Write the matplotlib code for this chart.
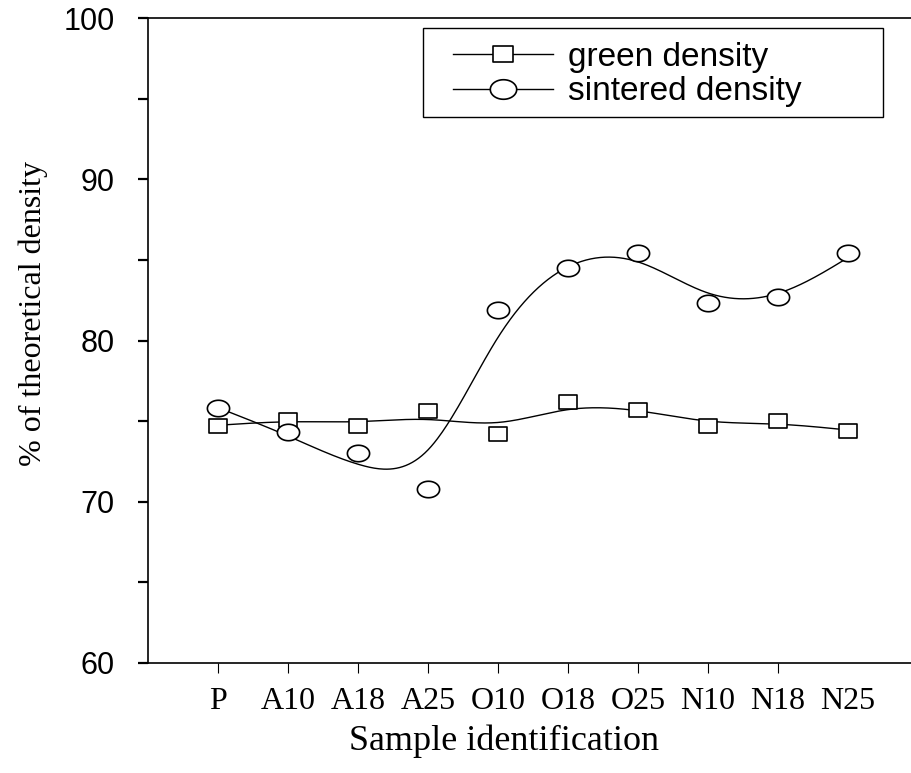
import numpy as np
import matplotlib
matplotlib.use("Agg")
import matplotlib.pyplot as plt
from matplotlib.path import Path
from matplotlib.patches import Rectangle
from matplotlib.ticker import MultipleLocator

# samples and measured densities (% of theoretical)
samples = ["P", "A10", "A18", "A25", "O10", "O18", "O25", "N10", "N18", "N25"]
green = [74.7, 75.1, 74.7, 75.6, 74.2, 76.2, 75.7, 74.7, 75.0, 74.4]
sintered = [75.8, 74.3, 73.0, 70.8, 81.9, 84.5, 85.4, 82.3, 82.7, 85.4]


def smooth_spline(x, y, lam, xs):
    """smoothing cubic spline (Reinsch), evaluated at xs"""
    x = np.asarray(x, float)
    y = np.asarray(y, float)
    n = len(x)
    h = np.diff(x)
    Q = np.zeros((n, n - 2))
    R = np.zeros((n - 2, n - 2))
    for j in range(1, n - 1):
        Q[j - 1, j - 1] = 1 / h[j - 1]
        Q[j, j - 1] = -1 / h[j - 1] - 1 / h[j]
        Q[j + 1, j - 1] = 1 / h[j]
        R[j - 1, j - 1] = (h[j - 1] + h[j]) / 3
        if j < n - 2:
            R[j - 1, j] = R[j, j - 1] = h[j] / 6
    gam = np.linalg.solve(R + lam * Q.T @ Q, Q.T @ y)
    g = y - lam * Q @ gam
    M = np.concatenate([[0], gam, [0]])
    i = np.clip(np.searchsorted(x, xs) - 1, 0, n - 2)
    hi = h[i]
    a = x[i + 1] - xs
    b = xs - x[i]
    return (M[i] * a**3 + M[i + 1] * b**3) / (6 * hi) \
        + (g[i] - M[i] * hi**2 / 6) * a / hi \
        + (g[i + 1] - M[i + 1] * hi**2 / 6) * b / hi


# ellipse and rectangle markers (the plot is a bit stretched sideways)
t = np.linspace(0, 2 * np.pi, 60)
ellipse = Path(np.column_stack([1.35 * np.cos(t), np.sin(t)]), closed=True)
rect = Path([(-1.35, -1), (1.35, -1), (1.35, 1), (-1.35, 1), (-1.35, -1)], closed=True)

x = np.arange(1, len(samples) + 1)
xs = np.linspace(1, len(samples), 400)

fig = plt.figure(figsize=(9.12, 7.73), dpi=100)
ax = fig.add_axes([148 / 912, 110 / 773, 764 / 912, 645 / 773])

lam = 0.1
ax.plot(xs, smooth_spline(x, green, lam, xs), color="black", lw=1.0, zorder=2)
ax.plot(xs, smooth_spline(x, sintered, lam, xs), color="black", lw=1.0, zorder=2)
ax.plot(x, green, ls="none", marker=rect, ms=13, mfc="white", mec="black", mew=1.2, zorder=3)
ax.plot(x, sintered, ls="none", marker=ellipse, ms=16, mfc="white", mec="black", mew=1.2, zorder=3)

ax.set_xlim(0, 764 / 70)
ax.set_ylim(60, 100)
ax.set_xticks(x)
ax.set_xticklabels(samples, fontfamily="Liberation Serif", fontsize=23)
ax.xaxis.get_major_ticks()[-1].tick1line.set_visible(False)
ax.tick_params(axis="x", direction="out", length=7, width=0.8, pad=10)

ax.set_yticks([60, 70, 80, 90, 100])
ax.yaxis.set_minor_locator(MultipleLocator(5))
ax.tick_params(axis="y", which="both", direction="out", length=7, width=1.6, pad=17)
for lab in ax.get_yticklabels():
    lab.set_fontfamily("Liberation Sans")
    lab.set_fontsize(22)

ax.spines["right"].set_visible(False)
for s in ["left", "top", "bottom"]:
    ax.spines[s].set_linewidth(1.2)

ax.set_xlabel("Sample identification", fontfamily="Liberation Serif", fontsize=26)
ax.xaxis.set_label_coords((504 - 148) / 764, (663 - 725) / 645)
ax.set_ylabel("% of theoretical density", fontfamily="Liberation Serif", fontsize=23)
ax.yaxis.set_label_coords((48 - 148) / 764, (663 - 313) / 645)

# legend: handles via proxy lines, frame drawn as a plain rectangle
h1, = ax.plot([], [], color="black", lw=1.0, marker=rect, ms=15, mfc="white", mec="black", mew=1.2)
h2, = ax.plot([], [], color="black", lw=1.0, marker=ellipse, ms=19, mfc="white", mec="black", mew=1.2)
leg = fig.legend([h1, h2], ["green density", "sintered density"], loc="upper left",
                 bbox_to_anchor=(453 / 912, 1 - 42 / 773), frameon=False, borderpad=0,
                 borderaxespad=0, handlelength=3.0, handletextpad=0.45, labelspacing=0.1,
                 prop={"family": "Liberation Sans", "size": 24})
fig.patches.append(Rectangle((423 / 912, 1 - 117 / 773), 460 / 912, 89 / 773,
                             transform=fig.transFigure, fill=False, ec="black", lw=1.0))

fig.savefig("out.png", dpi=100)
